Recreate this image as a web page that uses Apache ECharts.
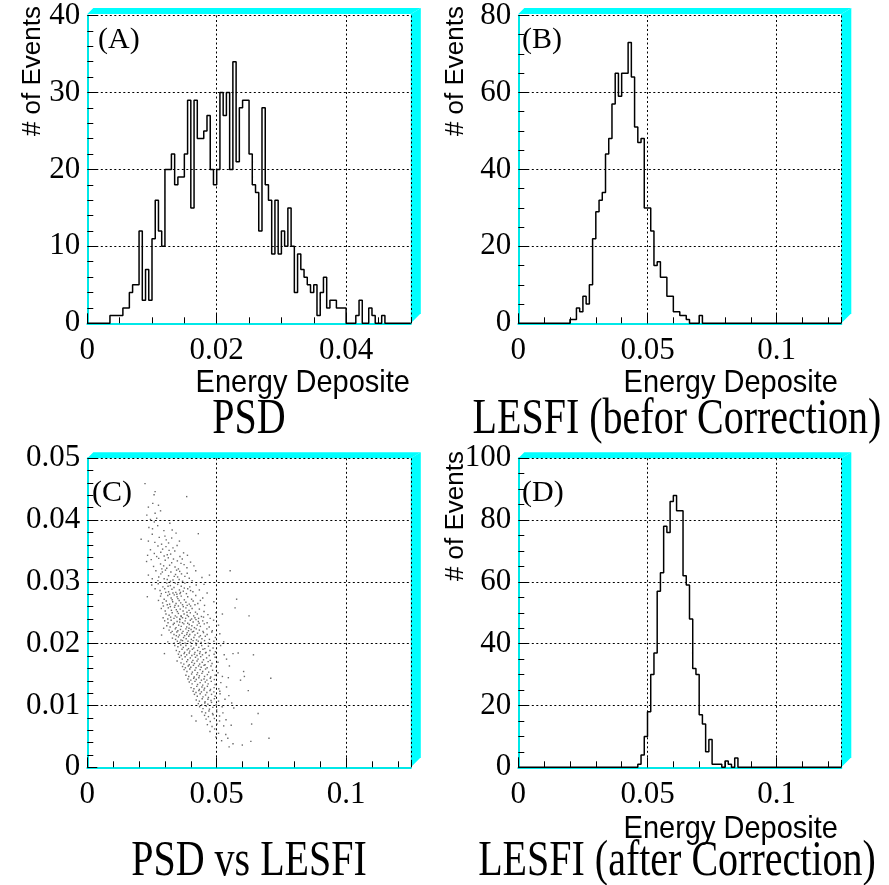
<!DOCTYPE html>
<html><head><meta charset="utf-8">
<script src="https://cdn.jsdelivr.net/npm/echarts@6/dist/echarts.min.js"></script>
<style>html,body{margin:0;padding:0;background:#fff}#c{width:889px;height:885px}</style>
</head><body><div id="c"></div>
<script>
// ---- data ----
// (A) PSD energy deposit, 100 bins over [0, 0.05]
const psdRange = [0, 0.05];
const psdCounts = [
  0,0,0,0,0,0,0,1,1,1,
  1,2,2,4,5,5,12,3,7,3,
  11,16,12,10,20,20,22,18,19,19,
  22,29,15,29,24,24,25,27,20,18,
  20,30,27,30,20,34,21,28,29,29,
  22,18,17,12,28,18,16,9,16,9,
  12,10,15,10,4,9,7,6,5,4,
  5,1,4,6,2,3,3,2,2,2,
  0,0,0,1,3,0,0,2,1,0,
  0,1,0,0,0,0,0,0,0,0
];
// (B) LESFI before correction, 100 bins over [0, 0.125]
const lesfiRange = [0, 0.125];
const lesfiBeforeCounts = [
  0,0,0,0,0,0,0,0,0,0,
  0,0,0,0,0,0,1,1,4,3,
  7,5,10,22,29,32,34,44,48,57,
  65,59,65,65,73,64,51,47,48,30,
  30,24,15,16,12,12,7,7,3,3,
  2,2,1,0,0,0,2,0,0,0,
  0,0,0,0,0,0,0,0,0,0,
  0,0,0,0,0,0,0,0,0,0,
  0,0,0,0,0,0,0,0,0,0,
  0,0,0,0,0,0,0,0,0,0
];
// (D) LESFI after correction, 100 bins over [0, 0.125]
const lesfiAfterCounts = [
  0,0,0,0,0,0,0,0,0,0,
  0,0,0,0,0,0,0,0,0,0,
  0,0,0,0,0,0,0,0,0,0,
  0,0,0,0,0,0,0,1,4,10,
  18,30,37,57,63,78,76,86,88,83,
  83,62,59,48,32,30,17,14,5,9,
  1,1,1,0,2,1,0,3,0,0,
  0,0,0,0,0,0,0,0,0,0,
  0,0,0,0,0,0,0,0,0,0,
  0,0,0,0,0,0,0,0,0,0
];
// (C) PSD (y) vs LESFI (x) events
const psdVsLesfi = [
[0.0223,0.0459],[0.0258,0.0441],[0.0384,0.0438],[0.0262,0.0446],
[0.0253,0.0427],[0.0236,0.0421],[0.0275,0.0424],
[0.0268,0.0403],[0.0230,0.0408],[0.0283,0.0415],[0.0262,0.0411],[0.0244,0.0401],
[0.0259,0.0397],[0.0238,0.0388],[0.0319,0.0395],[0.0328,0.0384],[0.0272,0.0391],[0.0296,0.0383],[0.0252,0.0386],
[0.0251,0.0377],[0.0300,0.0374],[0.0305,0.0368],[0.0343,0.0379],[0.0429,0.0378],[0.0208,0.0369],[0.0236,0.0366],[0.0314,0.0363],[0.0278,0.0372],[0.0287,0.0361],[0.0261,0.0364],[0.0326,0.0371],[0.0356,0.0366],
[0.0273,0.0358],[0.0291,0.0353],[0.0304,0.0357],[0.0331,0.0355],[0.0347,0.0359],[0.0259,0.0346],[0.0284,0.0348],[0.0309,0.0344],[0.0338,0.0350],[0.0372,0.0347],[0.0268,0.0341],[0.0297,0.0342],[0.0322,0.0345],[0.0358,0.0341],[0.0244,0.0352],[0.0316,0.0351],[0.0387,0.0343],[0.0233,0.0343],
[0.0229,0.0333],[0.0276,0.0338],[0.0301,0.0335],[0.0313,0.0339],[0.0348,0.0334],[0.0367,0.0337],[0.0283,0.0329],[0.0295,0.0326],[0.0326,0.0331],[0.0339,0.0324],[0.0374,0.0328],[0.0399,0.0332],[0.0256,0.0325],[0.0288,0.0321],[0.0307,0.0322],[0.0318,0.0327],[0.0352,0.0321],[0.0362,0.0330],[0.0385,0.0323],[0.0247,0.0336],[0.0412,0.0326],[0.0333,0.0337],
[0.0265,0.0318],[0.0284,0.0313],[0.0302,0.0319],[0.0323,0.0316],[0.0341,0.0312],[0.0357,0.0317],[0.0386,0.0314],[0.0419,0.0318],[0.0552,0.0318],[0.0276,0.0308],[0.0297,0.0305],[0.0314,0.0310],[0.0331,0.0303],[0.0349,0.0308],[0.0368,0.0301],[0.0394,0.0306],[0.0273,0.0302],[0.0290,0.0316],[0.0309,0.0304],[0.0321,0.0301],[0.0336,0.0309],[0.0355,0.0304],[0.0377,0.0309],[0.0405,0.0302],[0.0236,0.0311],[0.0364,0.0313],[0.0443,0.0307],[0.0472,0.0311],[0.0251,0.0305],[0.0345,0.0319],
[0.0249,0.0295],[0.0274,0.0297],[0.0292,0.0292],[0.0307,0.0298],[0.0321,0.0294],[0.0335,0.0291],[0.0349,0.0296],[0.0363,0.0293],[0.0377,0.0298],[0.0396,0.0292],[0.0421,0.0295],[0.0281,0.0286],[0.0299,0.0289],[0.0314,0.0284],[0.0327,0.0288],[0.0342,0.0283],[0.0356,0.0287],[0.0371,0.0285],[0.0388,0.0289],[0.0408,0.0284],[0.0433,0.0287],[0.0463,0.0282],[0.0286,0.0281],[0.0303,0.0283],[0.0318,0.0280],[0.0331,0.0282],[0.0346,0.0280],[0.0360,0.0283],[0.0383,0.0281],[0.0399,0.0286],[0.0312,0.0293],[0.0340,0.0298],[0.0358,0.0281],[0.0375,0.0290],[0.0451,0.0296],[0.0262,0.0289],
[0.0232,0.0276],[0.0283,0.0277],[0.0297,0.0272],[0.0311,0.0278],[0.0324,0.0274],[0.0336,0.0279],[0.0350,0.0273],[0.0363,0.0277],[0.0375,0.0271],[0.0388,0.0276],[0.0403,0.0272],[0.0419,0.0278],[0.0446,0.0274],[0.0577,0.0272],[0.0291,0.0266],[0.0305,0.0269],[0.0318,0.0264],[0.0330,0.0268],[0.0343,0.0265],[0.0355,0.0270],[0.0368,0.0263],[0.0381,0.0267],[0.0394,0.0264],[0.0409,0.0269],[0.0427,0.0265],[0.0489,0.0268],[0.0294,0.0261],[0.0309,0.0263],[0.0321,0.0260],[0.0339,0.0262],[0.0352,0.0261],[0.0371,0.0260],[0.0386,0.0262],[0.0399,0.0261],[0.0416,0.0263],[0.0453,0.0262],[0.0571,0.0258],[0.0347,0.0276],[0.0275,0.0270],[0.0437,0.0270],[0.0361,0.0266],[0.0328,0.0271],
[0.0286,0.0257],[0.0301,0.0253],[0.0313,0.0258],[0.0325,0.0254],[0.0337,0.0259],[0.0348,0.0252],[0.0359,0.0256],[0.0370,0.0253],[0.0381,0.0258],[0.0393,0.0254],[0.0405,0.0257],[0.0418,0.0251],[0.0433,0.0256],[0.0451,0.0252],[0.0522,0.0248],[0.0625,0.0245],[0.0304,0.0248],[0.0316,0.0246],[0.0328,0.0250],[0.0340,0.0245],[0.0352,0.0249],[0.0363,0.0244],[0.0374,0.0248],[0.0386,0.0246],[0.0398,0.0250],[0.0411,0.0245],[0.0425,0.0248],[0.0441,0.0244],[0.0466,0.0247],[0.0497,0.0250],[0.0293,0.0242],[0.0311,0.0240],[0.0322,0.0243],[0.0335,0.0241],[0.0346,0.0243],[0.0357,0.0240],[0.0368,0.0242],[0.0380,0.0241],[0.0391,0.0244],[0.0403,0.0240],[0.0416,0.0242],[0.0430,0.0241],[0.0449,0.0243],[0.0475,0.0241],[0.0344,0.0255],[0.0385,0.0251],[0.0362,0.0245],
[0.0299,0.0237],[0.0312,0.0234],[0.0324,0.0238],[0.0336,0.0233],[0.0347,0.0236],[0.0358,0.0239],[0.0368,0.0234],[0.0378,0.0237],[0.0388,0.0233],[0.0398,0.0238],[0.0409,0.0235],[0.0420,0.0239],[0.0432,0.0233],[0.0446,0.0237],[0.0463,0.0234],[0.0488,0.0238],[0.0307,0.0229],[0.0320,0.0227],[0.0332,0.0231],[0.0343,0.0226],[0.0353,0.0230],[0.0363,0.0228],[0.0373,0.0232],[0.0384,0.0227],[0.0394,0.0231],[0.0404,0.0229],[0.0414,0.0226],[0.0425,0.0230],[0.0437,0.0228],[0.0452,0.0232],[0.0471,0.0227],[0.0507,0.0230],[0.0316,0.0222],[0.0328,0.0220],[0.0340,0.0224],[0.0350,0.0221],[0.0360,0.0223],[0.0370,0.0220],[0.0381,0.0224],[0.0391,0.0221],[0.0401,0.0223],[0.0411,0.0220],[0.0421,0.0224],[0.0433,0.0222],[0.0447,0.0220],[0.0462,0.0224],[0.0483,0.0221],[0.0295,0.0225],[0.0357,0.0235],[0.0393,0.0225],[0.0429,0.0236],
[0.0287,0.0214],[0.0323,0.0218],[0.0335,0.0215],[0.0346,0.0219],[0.0356,0.0214],[0.0366,0.0217],[0.0376,0.0213],[0.0386,0.0218],[0.0396,0.0215],[0.0406,0.0219],[0.0416,0.0214],[0.0426,0.0217],[0.0437,0.0213],[0.0449,0.0218],[0.0463,0.0215],[0.0481,0.0219],[0.0512,0.0216],[0.0329,0.0209],[0.0341,0.0207],[0.0352,0.0211],[0.0362,0.0206],[0.0372,0.0210],[0.0382,0.0208],[0.0392,0.0212],[0.0402,0.0207],[0.0412,0.0210],[0.0422,0.0206],[0.0432,0.0211],[0.0443,0.0208],[0.0456,0.0212],[0.0472,0.0207],[0.0495,0.0210],[0.0311,0.0203],[0.0336,0.0201],[0.0348,0.0204],[0.0358,0.0202],[0.0368,0.0205],[0.0378,0.0201],[0.0389,0.0204],[0.0399,0.0202],[0.0409,0.0205],[0.0419,0.0201],[0.0429,0.0204],[0.0440,0.0202],[0.0453,0.0205],[0.0468,0.0201],[0.0489,0.0204],[0.0527,0.0203],[0.0384,0.0215],[0.0344,0.0213],
[0.0338,0.0197],[0.0350,0.0195],[0.0361,0.0198],[0.0371,0.0194],[0.0381,0.0197],[0.0391,0.0192],[0.0401,0.0196],[0.0411,0.0193],[0.0421,0.0198],[0.0431,0.0194],[0.0442,0.0197],[0.0454,0.0192],[0.0468,0.0196],[0.0486,0.0193],[0.0515,0.0197],[0.0298,0.0184],[0.0344,0.0189],[0.0356,0.0187],[0.0366,0.0191],[0.0376,0.0186],[0.0386,0.0190],[0.0396,0.0188],[0.0406,0.0191],[0.0416,0.0186],[0.0426,0.0189],[0.0436,0.0187],[0.0447,0.0191],[0.0459,0.0186],[0.0474,0.0189],[0.0495,0.0187],[0.0563,0.0184],[0.0583,0.0185],[0.0642,0.0182],[0.0352,0.0183],[0.0363,0.0181],[0.0374,0.0184],[0.0384,0.0182],[0.0394,0.0185],[0.0404,0.0181],[0.0414,0.0183],[0.0424,0.0181],[0.0434,0.0184],[0.0445,0.0182],[0.0457,0.0185],[0.0471,0.0181],[0.0490,0.0183],[0.0529,0.0182],
[0.0356,0.0178],[0.0367,0.0175],[0.0378,0.0179],[0.0388,0.0174],[0.0398,0.0177],[0.0408,0.0173],[0.0418,0.0178],[0.0428,0.0175],[0.0438,0.0179],[0.0449,0.0174],[0.0461,0.0177],[0.0475,0.0173],[0.0494,0.0178],[0.0538,0.0175],[0.0362,0.0169],[0.0373,0.0167],[0.0384,0.0171],[0.0394,0.0166],[0.0404,0.0170],[0.0414,0.0168],[0.0424,0.0172],[0.0434,0.0167],[0.0444,0.0170],[0.0455,0.0166],[0.0467,0.0171],[0.0482,0.0168],[0.0505,0.0170],[0.0368,0.0163],[0.0379,0.0161],[0.0390,0.0164],[0.0400,0.0162],[0.0410,0.0165],[0.0420,0.0161],[0.0430,0.0164],[0.0440,0.0162],[0.0451,0.0165],[0.0463,0.0161],[0.0478,0.0164],[0.0498,0.0162],[0.0549,0.0164],[0.0347,0.0172],
[0.0374,0.0158],[0.0385,0.0155],[0.0396,0.0159],[0.0406,0.0154],[0.0416,0.0157],[0.0426,0.0153],[0.0436,0.0158],[0.0446,0.0155],[0.0457,0.0159],[0.0469,0.0154],[0.0484,0.0157],[0.0505,0.0153],[0.0604,0.0155],[0.0381,0.0149],[0.0392,0.0147],[0.0403,0.0151],[0.0413,0.0146],[0.0423,0.0150],[0.0433,0.0148],[0.0443,0.0152],[0.0453,0.0147],[0.0464,0.0150],[0.0477,0.0146],[0.0494,0.0149],[0.0522,0.0147],[0.0607,0.0147],[0.0709,0.0144],[0.0389,0.0143],[0.0400,0.0141],[0.0411,0.0144],[0.0421,0.0142],[0.0431,0.0145],[0.0441,0.0141],[0.0451,0.0143],[0.0462,0.0141],[0.0475,0.0144],[0.0491,0.0142],[0.0545,0.0145],[0.0592,0.0141],
[0.0394,0.0138],[0.0405,0.0135],[0.0416,0.0139],[0.0426,0.0134],[0.0436,0.0137],[0.0446,0.0133],[0.0456,0.0138],[0.0467,0.0135],[0.0479,0.0139],[0.0494,0.0134],[0.0516,0.0137],[0.0401,0.0129],[0.0412,0.0127],[0.0423,0.0131],[0.0433,0.0126],[0.0443,0.0130],[0.0453,0.0128],[0.0464,0.0131],[0.0476,0.0126],[0.0490,0.0129],[0.0508,0.0127],[0.0538,0.0130],[0.0409,0.0123],[0.0420,0.0121],[0.0431,0.0124],[0.0441,0.0122],[0.0451,0.0125],[0.0462,0.0121],[0.0474,0.0124],[0.0489,0.0122],[0.0512,0.0123],[0.0622,0.0124],
[0.0414,0.0118],[0.0425,0.0115],[0.0436,0.0119],[0.0447,0.0114],[0.0457,0.0117],[0.0468,0.0113],[0.0480,0.0118],[0.0494,0.0115],[0.0513,0.0119],[0.0547,0.0116],[0.0421,0.0109],[0.0433,0.0107],[0.0444,0.0111],[0.0455,0.0106],[0.0466,0.0110],[0.0478,0.0108],[0.0491,0.0111],[0.0507,0.0107],[0.0532,0.0110],[0.0429,0.0103],[0.0442,0.0101],[0.0454,0.0104],[0.0466,0.0102],[0.0480,0.0105],[0.0498,0.0101],[0.0558,0.0104],
[0.0434,0.0098],[0.0447,0.0095],[0.0460,0.0099],[0.0472,0.0094],[0.0485,0.0097],[0.0500,0.0093],[0.0521,0.0098],[0.0566,0.0096],[0.0443,0.0090],[0.0457,0.0088],[0.0470,0.0091],[0.0484,0.0087],[0.0500,0.0090],[0.0524,0.0088],[0.0660,0.0087],[0.0403,0.0083],[0.0453,0.0084],[0.0468,0.0082],[0.0486,0.0085],[0.0511,0.0083],
[0.0420,0.0075],[0.0459,0.0078],[0.0475,0.0074],[0.0491,0.0079],[0.0511,0.0075],[0.0536,0.0077],[0.0635,0.0070],[0.0464,0.0069],[0.0482,0.0066],[0.0501,0.0070],[0.0527,0.0067],[0.0556,0.0068],[0.0492,0.0062],
[0.0474,0.0058],[0.0507,0.0055],[0.0535,0.0053],[0.0497,0.0049],[0.0543,0.0047],[0.0702,0.0047],[0.0632,0.0042],[0.0519,0.0043],
[0.0599,0.0036],[0.0563,0.0038],[0.0548,0.0033]
];
// axis ranges / tick steps
const yRangeA = [0, 40], yRangeB = [0, 80], yRangeC = [0, 0.05], yRangeD = [0, 100];
const panelTitles = ['PSD', 'LESFI (befor Correction)', 'PSD vs LESFI', 'LESFI (after Correction)'];
const panelTags = ['(A)', '(B)', '(C)', '(D)'];
const yName = '# of Events', xName = 'Energy Deposite';

// ---- layout ----
const grids = [
  {left: 87.3, top: 14, width: 323.5, height: 309.3},
  {left: 518.3, top: 14, width: 323, height: 309.3},
  {left: 87.3, top: 458.3, width: 323.5, height: 309},
  {left: 518.3, top: 458.3, width: 323, height: 309}
];
const SERIF = '"Liberation Serif", "Times New Roman", serif';
const SANS = '"Liberation Sans", Arial, sans-serif';
const CYAN = '#00e8e8';

function histData(counts, range) {
  const bw = (range[1] - range[0]) / counts.length;
  const d = counts.map((c, i) => [range[0] + i * bw, c]);
  d.push([range[1], 0]);
  return d;
}

const xSpecs = [
  {range: psdRange, major: 0.02, minor: 0.005},
  {range: lesfiRange, major: 0.05, minor: 0.01},
  {range: lesfiRange, major: 0.05, minor: 0.01},
  {range: lesfiRange, major: 0.05, minor: 0.01}
];
const ySpecs = [
  {range: yRangeA, major: 10, split: 5},
  {range: yRangeB, major: 20, split: 4},
  {range: yRangeC, major: 0.01, split: 5},
  {range: yRangeD, major: 20, split: 4}
];

const dotted = {color: '#000', type: [2, 2.5], width: 1};
const xAxis = [], yAxis = [];
xSpecs.forEach((s, p) => {
  xAxis.push({
    type: 'value', gridIndex: p, min: s.range[0], max: s.range[1], interval: s.major,
    axisLine: {show: true, onZero: false, lineStyle: {color: CYAN, width: 2}},
    axisTick: {show: true, inside: true, length: 10, lineStyle: {color: '#000', width: 1}},
    axisLabel: {show: true, showMaxLabel: false, margin: 12, color: '#000', fontFamily: SERIF, fontSize: 31},
    splitLine: {show: true, lineStyle: dotted}
  });
  xAxis.push({
    type: 'value', gridIndex: p + 4, min: s.range[0], max: s.range[1], interval: s.minor,
    axisLine: {show: false}, axisLabel: {show: false}, splitLine: {show: false},
    axisTick: {show: true, inside: true, length: 6, lineStyle: {color: '#000', width: 1}}
  });
});
ySpecs.forEach((s, p) => {
  yAxis.push({
    type: 'value', gridIndex: p, min: s.range[0], max: s.range[1], interval: s.major,
    axisLine: {show: true, onZero: false, lineStyle: {color: CYAN, width: 2}},
    axisTick: {show: true, inside: true, length: 10, lineStyle: {color: '#000', width: 1}},
    minorTick: {show: true, splitNumber: s.split, length: 6, lineStyle: {color: '#000', width: 1}},
    axisLabel: {show: true, margin: 7, color: '#000', fontFamily: SERIF, fontSize: 31},
    splitLine: {show: true, lineStyle: dotted}
  });
});
for (let p = 0; p < 4; p++) yAxis.push({type: 'value', gridIndex: p + 4, min: 0, max: 1, show: false});

function histSeries(counts, range, xi, yi) {
  return {
    type: 'line', step: 'end', xAxisIndex: xi, yAxisIndex: yi, data: histData(counts, range),
    symbol: 'none', lineStyle: {color: '#000', width: 1.5}, z: 5, animation: false
  };
}

function frameDeco(g) {
  const L = g.left, T = g.top, R = g.left + g.width, B = g.top + g.height;
  return [
    {type: 'polygon', z: 0, shape: {points: [[L, T], [L + 6, T - 6], [R + 10, T - 6], [R, T]]}, style: {fill: '#00ffff'}},
    {type: 'polygon', z: 0, shape: {points: [[R, T], [R + 10, T - 6], [R + 10, B - 10], [R, B]]}, style: {fill: '#00ffff'}}
  ];
}
function txt(text, x, y, font, align, valign, extra) {
  return Object.assign({type: 'text', x: x, y: y, z: 10,
    style: {text: text, font: font, fill: '#000', textAlign: align, textVerticalAlign: valign}}, extra || {});
}

const graphic = [];
grids.forEach(g => graphic.push(...frameDeco(g)));
const tagPos = [[98, 40], [522, 40], [92, 493], [522, 493]];
panelTags.forEach((t, i) => graphic.push(txt(t, tagPos[i][0], tagPos[i][1], '30px ' + SERIF, 'left', 'middle')));
const titlePos = [[249, 420], [677, 420], [249, 862], [677, 862]];
panelTitles.forEach((t, i) => graphic.push(txt(t, titlePos[i][0], titlePos[i][1], '40px ' + SERIF, 'center', 'middle', {scaleY: 1.27})));
graphic.push(txt(yName, 33, 6, '26px ' + SANS, 'right', 'middle', {rotation: Math.PI / 2}));
graphic.push(txt(yName, 456, 6, '26px ' + SANS, 'right', 'middle', {rotation: Math.PI / 2}));
graphic.push(txt(yName, 456, 451, '26px ' + SANS, 'right', 'middle', {rotation: Math.PI / 2}));
graphic.push(txt(xName, 410, 383, '29px ' + SANS, 'right', 'middle', {scaleY: 1.08}));
graphic.push(txt(xName, 838, 383, '29px ' + SANS, 'right', 'middle', {scaleY: 1.08}));
graphic.push(txt(xName, 838, 829, '29px ' + SANS, 'right', 'middle', {scaleY: 1.08}));

const chart = echarts.init(document.getElementById('c'));
chart.setOption({
  animation: false,
  backgroundColor: '#fff',
  grid: grids.concat(grids).map(g => Object.assign({containLabel: false}, g)),
  xAxis: xAxis,
  yAxis: yAxis,
  graphic: graphic,
  series: [
    histSeries(psdCounts, psdRange, 0, 0),
    histSeries(lesfiBeforeCounts, lesfiRange, 2, 1),
    {type: 'scatter', xAxisIndex: 4, yAxisIndex: 2, data: psdVsLesfi, symbol: 'rect', symbolSize: 1.4,
     itemStyle: {color: '#444'}, z: 5, animation: false},
    histSeries(lesfiAfterCounts, lesfiRange, 6, 3)
  ]
});
</script></body></html>
